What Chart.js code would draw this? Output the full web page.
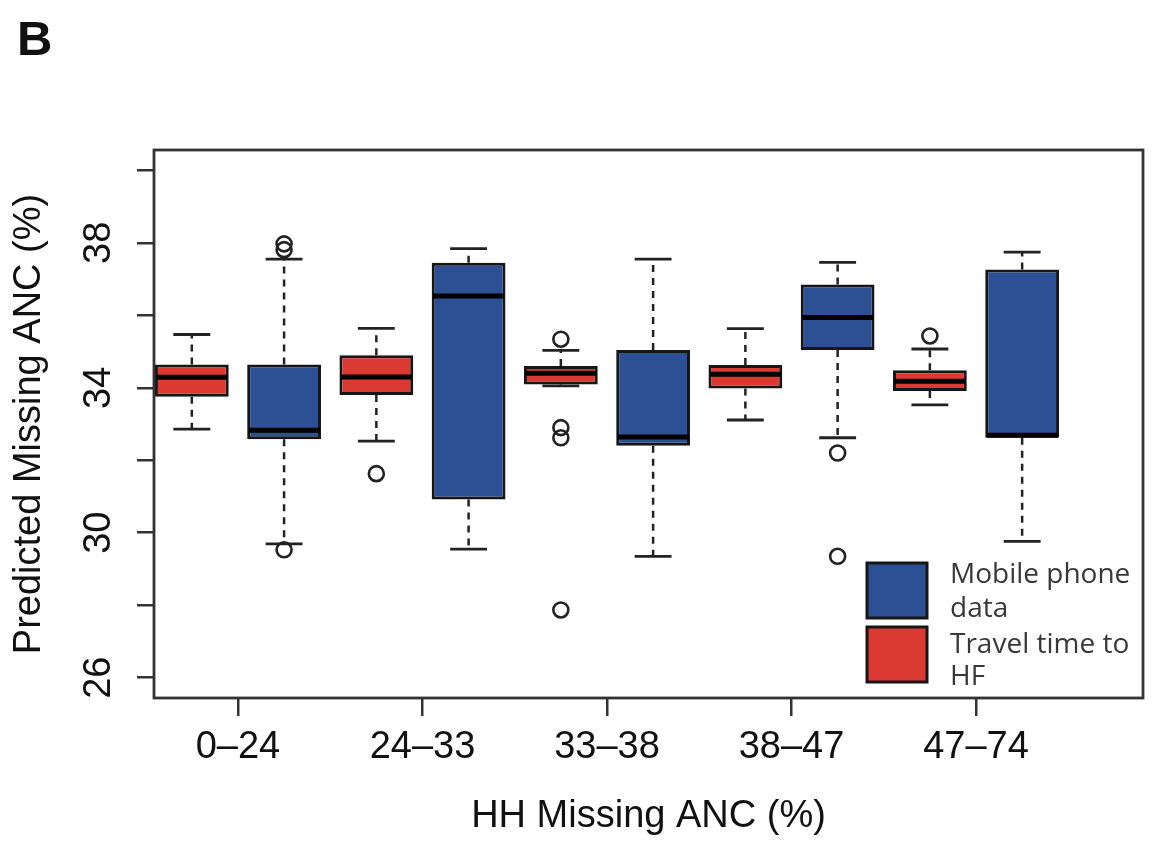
<!DOCTYPE html>
<html>
<head>
<meta charset="utf-8">
<title>Predicted Missing ANC</title>
<script src="https://cdn.jsdelivr.net/npm/chart.js@4.4.1/dist/chart.umd.min.js"></script>
<style>
  html, body { margin: 0; padding: 0; background: #ffffff; }
  #wrap { width: 1167px; height: 844px; }
</style>
</head>
<body>
<div id="wrap"><canvas id="ancChart" width="1167" height="844"></canvas></div>
<script>
// x axis groups (HH missing ANC, %)
const groupLabels = ['0–24', '24–33', '33–38', '38–47', '47–74'];

// Mobile phone data (blue boxes)
const mobileLow = [29.69, 29.55, 29.35, 32.62, 29.76];
const mobileQ1 = [32.58, 30.92, 32.40, 35.04, 32.62];
const mobileMedian = [32.83, 36.53, 32.64, 35.94, 32.69];
const mobileQ3 = [34.64, 37.45, 35.04, 36.85, 37.26];
const mobileHigh = [37.55, 37.84, 37.55, 37.46, 37.74];
const mobileOutliers = [[37.97, 37.81, 29.53], [], [], [32.20, 29.35], []];

// Travel time to HF (red boxes)
const travelLow = [32.86, 32.53, 34.05, 33.11, 33.53];
const travelQ1 = [33.75, 33.80, 34.09, 33.98, 33.91];
const travelMedian = [34.29, 34.30, 34.40, 34.37, 34.18];
const travelQ3 = [34.64, 34.90, 34.60, 34.63, 34.48];
const travelHigh = [35.47, 35.64, 35.03, 35.63, 35.07];
const travelOutliers = [[], [31.63], [35.34, 32.90, 32.62, 27.87], [], [35.43]];

// y axis ticks, label on every other one
const yTickValues = [26, 28, 30, 32, 34, 36, 38, 40];
const yTickLabels = ['26', '', '30', '', '34', '', '38', ''];

const BLUE = '#2d4f93';
const RED = '#db3a33';
const INK = '#161616';
const FONT = "'Liberation Sans', Arial, Helvetica, sans-serif";

// box positions: red then blue inside each group
const travelPos = i => 2 * i + 1;
const mobilePos = i => 2 * i + 2;
const xTickPos = groupLabels.map((g, i) => 2 * i + 1.5);

function boxData(pos, q1, q3) {
    return q1.map((v, i) => ({ x: pos(i), y: [v, q3[i]] }));
}

function outlierPoints() {
    const pts = [];
    travelOutliers.forEach((list, i) => list.forEach(v => pts.push({ x: travelPos(i), y: v })));
    mobileOutliers.forEach((list, i) => list.forEach(v => pts.push({ x: mobilePos(i), y: v })));
    return pts;
}

// dataset index -> whisker / median stats
const boxStats = [
    { low: travelLow, q1: travelQ1, med: travelMedian, q3: travelQ3, high: travelHigh },
    { low: mobileLow, q1: mobileQ1, med: mobileMedian, q3: mobileQ3, high: mobileHigh }
];

function hline(ctx, x1, x2, y) {
    ctx.beginPath();
    ctx.moveTo(x1, y);
    ctx.lineTo(x2, y);
    ctx.stroke();
}

function vline(ctx, x, y1, y2) {
    ctx.beginPath();
    ctx.moveTo(x, y1);
    ctx.lineTo(x, y2);
    ctx.stroke();
}

// whiskers, medians, frame, legend and panel letter
const boxPlotPlugin = {
    id: 'boxPlotExtras',
    beforeDatasetsDraw(chart) {
        const ctx = chart.ctx;
        const y = chart.scales.y;
        ctx.save();
        ctx.strokeStyle = '#222';
        boxStats.forEach((s, di) => {
            chart.getDatasetMeta(di).data.forEach((bar, i) => {
                const cx = bar.x;
                const cap = bar.width / 4;
                ctx.lineWidth = 2.5;
                ctx.setLineDash([7, 6]);
                vline(ctx, cx, y.getPixelForValue(s.q3[i]), y.getPixelForValue(s.high[i]));
                vline(ctx, cx, y.getPixelForValue(s.q1[i]), y.getPixelForValue(s.low[i]));
                ctx.setLineDash([]);
                ctx.lineWidth = 2.8;
                hline(ctx, cx - cap, cx + cap, y.getPixelForValue(s.high[i]));
                hline(ctx, cx - cap, cx + cap, y.getPixelForValue(s.low[i]));
            });
        });
        ctx.restore();
    },
    afterDatasetsDraw(chart) {
        const ctx = chart.ctx;
        const y = chart.scales.y;
        ctx.save();
        ctx.strokeStyle = '#000';
        ctx.lineWidth = 5;
        boxStats.forEach((s, di) => {
            chart.getDatasetMeta(di).data.forEach((bar, i) => {
                const half = bar.width / 2 - 1.5;
                hline(ctx, bar.x - half, bar.x + half, y.getPixelForValue(s.med[i]));
            });
        });
        ctx.restore();
    },
    afterDraw(chart) {
        const ctx = chart.ctx;
        const a = chart.chartArea;
        ctx.save();

        // plot frame
        ctx.strokeStyle = '#333';
        ctx.lineWidth = 2.8;
        ctx.strokeRect(a.left, a.top, a.right - a.left, a.bottom - a.top);

        // panel letter
        ctx.fillStyle = '#111';
        ctx.font = 'bold 49px ' + FONT;
        ctx.textBaseline = 'alphabetic';
        ctx.textAlign = 'left';
        ctx.fillText('B', 17, 55);

        // legend inside the plot, bottom right
        const lx = a.right - 276;
        const ly = a.bottom - 135;
        ctx.lineWidth = 3;
        ctx.strokeStyle = INK;
        ctx.fillStyle = BLUE;
        ctx.fillRect(lx, ly, 60, 55);
        ctx.strokeRect(lx, ly, 60, 55);
        ctx.fillStyle = RED;
        ctx.fillRect(lx, ly + 64, 60, 55);
        ctx.strokeRect(lx, ly + 64, 60, 55);

        ctx.fillStyle = '#383838';
        ctx.font = "28px 'Open Sans', sans-serif";
        ctx.fillText('Mobile phone', lx + 83, ly + 20);
        ctx.fillText('data', lx + 83, ly + 54);
        ctx.fillText('Travel time to', lx + 83, ly + 90);
        ctx.fillText('HF', lx + 83, ly + 122);
        ctx.restore();
    }
};

function initAncChart() {
    const canvas = document.getElementById('ancChart');
    if (!canvas) return;

    Chart.defaults.font.family = FONT;
    Chart.defaults.color = '#111';

    new Chart(canvas, {
        type: 'bar',
        data: {
            datasets: [{
                type: 'bar',
                label: 'Travel time to HF',
                data: boxData(travelPos, travelQ1, travelQ3),
                backgroundColor: RED,
                borderColor: INK,
                borderWidth: 3,
                borderSkipped: false,
                grouped: false,
                barPercentage: 0.8,
                categoryPercentage: 1
            }, {
                type: 'bar',
                label: 'Mobile phone data',
                data: boxData(mobilePos, mobileQ1, mobileQ3),
                backgroundColor: BLUE,
                borderColor: INK,
                borderWidth: 3,
                borderSkipped: false,
                grouped: false,
                barPercentage: 0.8,
                categoryPercentage: 1
            }, {
                type: 'scatter',
                label: 'Outliers',
                data: outlierPoints(),
                pointStyle: 'circle',
                pointRadius: 7.5,
                pointHoverRadius: 7.5,
                borderWidth: 2.6,
                borderColor: '#222',
                backgroundColor: 'rgba(0,0,0,0)'
            }]
        },
        options: {
            responsive: false,
            devicePixelRatio: 1,
            animation: false,
            layout: {
                padding: { top: 150, right: 24, bottom: 0, left: 0 }
            },
            plugins: {
                legend: { display: false },
                tooltip: { enabled: false }
            },
            scales: {
                x: {
                    type: 'linear',
                    min: 0.59,
                    max: 11.31,
                    offset: false,
                    afterBuildTicks: scale => {
                        scale.ticks = xTickPos.map(v => ({ value: v }));
                    },
                    afterFit: scale => {
                        scale.height = 146;
                    },
                    border: { display: false },
                    grid: {
                        offset: false,
                        drawOnChartArea: false,
                        drawTicks: true,
                        tickLength: 18,
                        color: '#333',
                        lineWidth: 2.5
                    },
                    ticks: {
                        autoSkip: false,
                        maxRotation: 0,
                        padding: 9,
                        color: '#111',
                        font: { size: 38 },
                        callback: (value, index) => groupLabels[index]
                    },
                    title: {
                        display: true,
                        text: 'HH Missing ANC (%)',
                        color: '#111',
                        font: { size: 38 },
                        padding: { top: 0, bottom: 5 }
                    }
                },
                y: {
                    type: 'linear',
                    min: 25.44,
                    max: 40.56,
                    afterBuildTicks: scale => {
                        scale.ticks = yTickValues.map(v => ({ value: v }));
                    },
                    afterFit: scale => {
                        scale.width = 154;
                    },
                    border: { display: false },
                    grid: {
                        drawOnChartArea: false,
                        drawTicks: true,
                        tickLength: 17,
                        color: '#333',
                        lineWidth: 2.5
                    },
                    ticks: {
                        autoSkip: false,
                        minRotation: 90,
                        maxRotation: 90,
                        crossAlign: 'center',
                        padding: 16,
                        color: '#111',
                        font: { size: 38 },
                        callback: (value, index) => yTickLabels[index]
                    },
                    title: {
                        display: true,
                        text: 'Predicted Missing ANC (%)',
                        color: '#111',
                        font: { size: 38 },
                        padding: { top: 7, bottom: 0 }
                    }
                }
            }
        },
        plugins: [boxPlotPlugin]
    });
}

document.addEventListener('DOMContentLoaded', initAncChart);
</script>
</body>
</html>
